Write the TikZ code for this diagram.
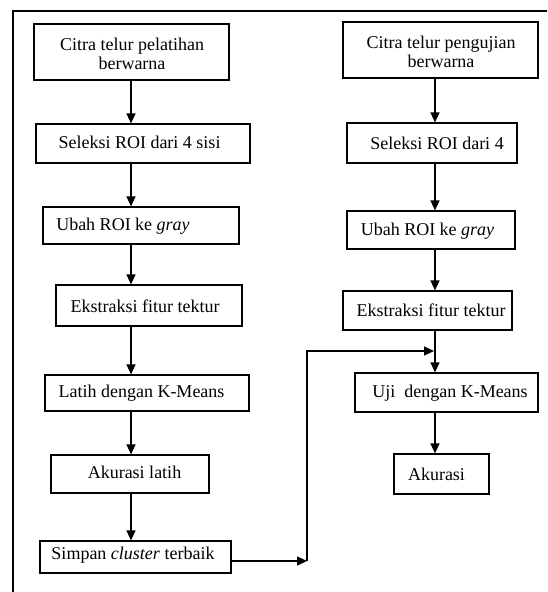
\documentclass[tikz,border=0pt]{standalone}
\usepackage{fontspec}
\setmainfont{Liberation Serif}
\usetikzlibrary{arrows.meta,calc}
\begin{document}
\begin{tikzpicture}[x=1pt,y=-1pt,
  box/.style={draw=black,line width=1.2pt,rectangle,inner sep=0pt,fill=white},
  txt/.style={inner sep=0pt,align=center,font=\fontsize{18}{19}\selectfont},
  arr/.style={line width=1.3pt,-{Triangle[length=10pt,width=9pt]}},
  frame/.style={line width=2pt}]
\useasboundingbox (0,0) rectangle (547,592);
\draw[frame] (547,11) -- (13,11) -- (13,592);
% left column boxes
\node[box,minimum width=195,minimum height=56] (l1) at (131.5,52) {};
\node[box,minimum width=214,minimum height=39] (l2) at (143,143.5) {};
\node[box,minimum width=196,minimum height=37] (l3) at (141,225.5) {};
\node[box,minimum width=186,minimum height=41] (l4) at (149,305.5) {};
\node[box,minimum width=204,minimum height=36] (l5) at (147,393) {};
\node[box,minimum width=158,minimum height=38] (l6) at (130,474) {};
\node[box,minimum width=191,minimum height=32] (l7) at (135.5,557) {};
% right column boxes
\node[box,minimum width=195,minimum height=56] (r1) at (440.5,50) {};
\node[box,minimum width=170,minimum height=40] (r2) at (432,143) {};
\node[box,minimum width=168,minimum height=38] (r3) at (431,230) {};
\node[box,minimum width=169,minimum height=39] (r4) at (427.5,310.5) {};
\node[box,minimum width=183,minimum height=39] (r5) at (446.5,392.5) {};
\node[box,minimum width=95,minimum height=40] (r6) at (441.5,474) {};
% texts
\node[txt] (l1t) at (132,54) {Citra telur pelatihan\\berwarna};
\node[txt] (l2t) at (139.5,142) {Seleksi ROI dari 4 sisi};
\node[txt] (l3t) at (123,226) {Ubah ROI ke \textit{gray}};
\node[txt] (l4t) at (145,306) {Ekstraksi fitur tektur};
\node[txt] (l5t) at (141.5,393) {Latih dengan K-Means};
\node[txt] (l6t) at (134.5,472) {Akurasi latih};
\node[txt] (l7t) at (133,555) {Simpan \textit{cluster} terbaik};
\node[txt] (r1t) at (441,52) {Citra telur pengujian\\berwarna};
\node[txt] (r2t) at (437,143) {Seleksi ROI dari 4};
\node[txt] (r3t) at (427.5,231) {Ubah ROI ke \textit{gray}};
\node[txt] (r4t) at (431,310) {Ekstraksi fitur tektur};
\node[txt] (r5t) at (450,393) {Uji\ \ dengan K-Means};
\node[txt] (r6t) at (436.5,474) {Akurasi};
% arrows
\coordinate (cl) at (131,0);
\coordinate (cr) at (435,0);
\foreach \a/\b in {l1/l2,l2/l3,l3/l4,l4/l5,l5/l6,l6/l7}{
  \draw[arr] (\a.south -| cl) -- (\b.north -| cl);
}
\foreach \a/\b in {r1/r2,r2/r3,r3/r4,r4/r5,r5/r6}{
  \draw[arr] (\a.south -| cr) -- (\b.north -| cr);
}
\coordinate (c1) at (307,561);
\coordinate (c2) at (307,351);
\coordinate (c3) at (434,351);
\draw[arr] (l7.east |- c1) -- (c1);
\draw[arr] (c1) -- (c2) -- (c3);
\end{tikzpicture}
\end{document}
